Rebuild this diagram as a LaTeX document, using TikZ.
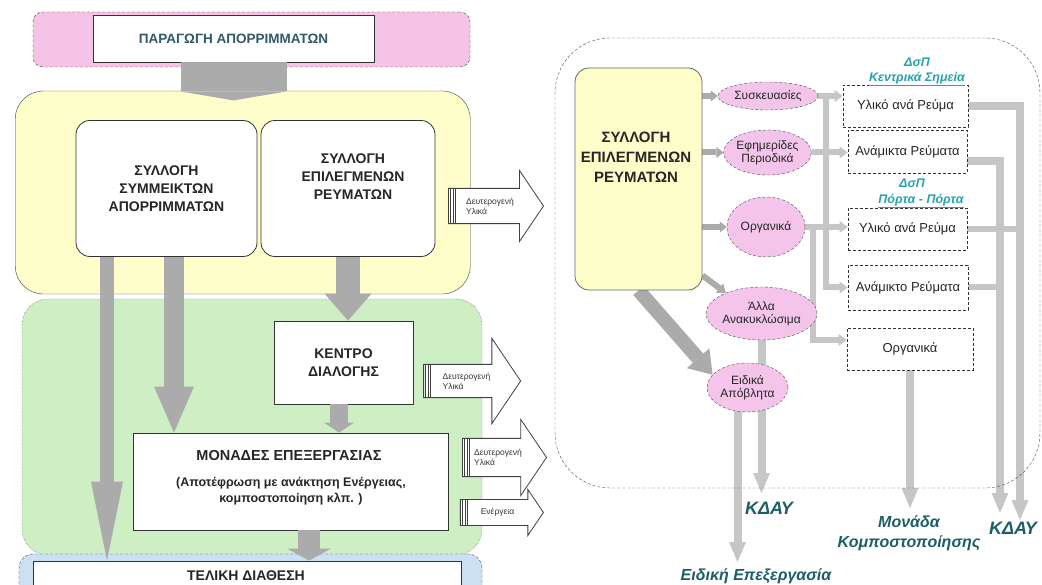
\documentclass[tikz,border=0pt]{standalone}
\usepackage{fontspec}
\setmainfont{Liberation Sans}
\usetikzlibrary{arrows.meta,shapes.geometric,shapes.arrows,backgrounds}

\definecolor{pinkfill}{HTML}{F5C3E6}
\definecolor{yellowfill}{HTML}{FEFECB}
\definecolor{greenfill}{HTML}{CDEFC3}
\definecolor{bluefill}{HTML}{CCE0F4}
\definecolor{bubblepink}{HTML}{F4C4EA}
\definecolor{arrowgray}{HTML}{ABABAB}
\definecolor{flowgray}{HTML}{C6C6C6}
\definecolor{tealdark}{HTML}{1C5E66}
\definecolor{teallight}{HTML}{25A3AD}
\definecolor{prodtext}{HTML}{2F5868}

\tikzset{
  panel/.style={draw=black!75, rounded corners=20pt},
  whitebox/.style={draw=black!80, fill=white, thick, align=center, text=black!85, font=\bfseries\fontsize{14}{18}\selectfont},
  roundbox/.style={whitebox, rounded corners=14pt},
  blockarrow/.style n args={3}{draw=arrowgray, line width=#1, -{Triangle[length=#2, width=#3, line width=0pt]}},
  hollowarrow/.style={single arrow, draw=black!75, fill=white, thick, single arrow tip angle=112, inner xsep=1pt, align=left, font=\fontsize{8.5}{10}\selectfont, text=black!80},
  stripes/.style={path picture={\foreach \d in {2,4.5,7} \draw[black!75, line width=0.7pt] ([xshift=\d pt]path picture bounding box.south west) -- ([xshift=\d pt]path picture bounding box.north west);}},
  bubble/.style={ellipse, draw=black!70, densely dashed, fill=bubblepink, inner sep=0pt, align=center, font=\fontsize{12}{13}\selectfont, text=black!85},
  streambox/.style={draw=black!80, densely dashed, thick, fill=white, inner xsep=2pt, font=\fontsize{13}{15}\selectfont, text=black!85},
  flow/.style={draw=flowgray, line width=6pt, -{Triangle[length=8pt, width=12pt, line width=0pt]}},
  flowline/.style={draw=flowgray, line width=6pt},
  flowdown/.style={draw=flowgray, line width=8pt, -{Triangle[length=20pt, width=17pt, line width=0pt]}},
  outlabel/.style={text=tealdark, font=\bfseries\itshape\fontsize{16}{20}\selectfont, align=center},
  dsplabel/.style={text=teallight, font=\bfseries\itshape\fontsize{12.5}{14}\selectfont, align=center}
}

\begin{document}
\begin{tikzpicture}[x=1pt, y=-1pt]
% left: waste flow from production to final disposal
\useasboundingbox (0,0) rectangle (1042,585);
\clip (0,0) rectangle (1042,585);

\node[panel, densely dashed, fill=pinkfill, minimum width=437pt, minimum height=55pt, rounded corners=10pt] (prodpanel) at (251.5,39.5) {};
\node[whitebox, minimum width=281pt, minimum height=47pt, text=prodtext, font=\bfseries\fontsize{13.5}{15}\selectfont] (prod) at (233.5,38.5) {ΠΑΡΑΓΩΓΗ ΑΠΟΡΡΙΜΜΑΤΩΝ};

\node[panel, fill=yellowfill, minimum width=455pt, minimum height=203pt, rounded corners=28pt] (collect) at (242.75,192.5) {};
\node[roundbox, minimum width=181pt, minimum height=136pt] (mixed) at (166.5,188.5) {ΣΥΛΛΟΓΗ\\ΣΥΜΜΕΙΚΤΩΝ\\ΑΠΟΡΡΙΜΜΑΤΩΝ};
\node[roundbox, minimum width=174pt, minimum height=136pt] (sel) at (348,188.5) {};
\node[align=center, text=black!85, font=\bfseries\fontsize{14}{18}\selectfont] (seltext) at (353,177) {ΣΥΛΛΟΓΗ\\ΕΠΙΛΕΓΜΕΝΩΝ\\ΡΕΥΜΑΤΩΝ};

\node[panel, densely dotted, fill=greenfill, minimum width=460pt, minimum height=256pt, rounded corners=26pt] (sortpanel) at (252,427) {};
\node[whitebox, minimum width=139pt, minimum height=83pt] (kentro) at (343.5,362.5) {ΚΕΝΤΡΟ\\ΔΙΑΛΟΓΗΣ};
\node[whitebox, minimum width=315pt, minimum height=97pt] (monades) at (290.5,481.5) {};
\node[align=center, text=black!85, font=\bfseries\fontsize{14.5}{16}\selectfont] (monadestitle) at (289,456) {ΜΟΝΑΔΕΣ ΕΠΕΞΕΡΓΑΣΙΑΣ};
\node[align=center, text=black!85, font=\bfseries\fontsize{12.5}{16}\selectfont] (monadesnote) at (291,491) {(Αποτέφρωση με ανάκτηση Ενέργειας,\\κομποστοποίηση κλπ. )};

\node[panel, densely dashed, fill=bluefill, minimum width=463pt, minimum height=70pt, rounded corners=14pt] (disppanel) at (250.5,589) {};
\node[whitebox, minimum width=428pt, minimum height=44pt] (final) at (247,583) {};
\node[text=black!85, font=\bfseries\fontsize{14}{16}\selectfont] (finaltext) at (246,576) {ΤΕΛΙΚΗ ΔΙΑΘΕΣΗ};

\node[hollowarrow, stripes, inner ysep=9pt, minimum height=95pt, single arrow head extend=18pt] (secA) at (490,206) {Δευτερογενή\\Υλικά};
\node[hollowarrow, stripes, inner ysep=8pt, minimum height=97pt, single arrow head extend=26pt] (secB) at (466.5,381) {Δευτερογενή\\Υλικά};
\node[hollowarrow, stripes, inner ysep=10.5pt, minimum height=84pt, single arrow head extend=19pt] (secC) at (498,457.5) {Δευτερογενή\\Υλικά};
\node[hollowarrow, stripes, inner ysep=8.5pt, minimum height=83pt, single arrow head extend=10pt] (energy) at (497.5,512.5) {Ενέργεια};

\draw[blockarrow={106pt}{9pt}{106pt}] (prod.south) -- ([yshift=-38pt]prod.south);
\draw[blockarrow={14pt}{79pt}{32pt}] ([xshift=-59.5pt]mixed.south) -- ([xshift=-59.5pt]mixed.south |- final.north);
\draw[blockarrow={20pt}{46pt}{40pt}] ([xshift=7.5pt]mixed.south) -- ([xshift=7.5pt]mixed.south |- monades.north);
\draw[blockarrow={24pt}{27pt}{47pt}] (sel.south) -- (sel.south |- kentro.north);
\draw[blockarrow={18pt}{10pt}{30pt}] ([xshift=-4.5pt]kentro.south) -- ([xshift=-4.5pt]kentro.south |- monades.north);
\draw[blockarrow={22pt}{12pt}{44pt}] ([xshift=18.5pt]monades.south) -- ([xshift=18.5pt]monades.south |- final.north);

% right: selected streams
\node[draw=black!70, densely dashed, rounded corners=55pt, minimum width=485pt, minimum height=450pt] (frame) at (797.5,263) {};
\node[draw=black!60, fill=yellowfill, thick, rounded corners=14pt, minimum width=127pt, minimum height=222pt] (selR) at (638.5,179) {};
\node[align=center, text=black!85, font=\bfseries\fontsize{15}{20}\selectfont] (selRtext) at (636,157) {ΣΥΛΛΟΓΗ\\ΕΠΙΛΕΓΜΕΝΩΝ\\ΡΕΥΜΑΤΩΝ};

\node[bubble, minimum width=100pt, minimum height=28pt] (sysk) at (768,96) {Συσκευασίες};
\node[bubble, minimum width=81pt, minimum height=45pt] (efim) at (767.5,152.5) {Εφημερίδες\\Περιοδικά};
\node[bubble, minimum width=78pt, minimum height=60pt] (org) at (766,227) {Οργανικά};
\node[bubble, minimum width=97pt, minimum height=53pt] (alla) at (761.5,313.5) {Άλλα\\Ανακυκλώσιμα};
\node[bubble, minimum width=81pt, minimum height=49pt] (eidika) at (747.5,387.5) {Ειδικά\\Απόβλητα};

\node[streambox, minimum width=125pt, minimum height=42pt] (yliko1) at (905.5,106) {Υλικό ανά Ρεύμα};
\node[streambox, minimum width=119pt, minimum height=43pt] (anamikta1) at (907.5,151.5) {Ανάμικτα Ρεύματα};
\node[streambox, minimum width=119pt, minimum height=42pt] (yliko2) at (907.5,229) {Υλικό ανά Ρεύμα};
\node[streambox, minimum width=120pt, minimum height=45pt] (anamikto2) at (908,287.5) {Ανάμικτο Ρεύματα};
\node[streambox, minimum width=126pt, minimum height=42pt] (organika) at (910,349) {Οργανικά};

\node[dsplabel] (dspA) at (917,62) {ΔσΠ};
\node[dsplabel] (centralpts) at (917,79) {\underline{Κεντρικά Σημεία}};
\node[dsplabel] (dspB) at (912,183) {ΔσΠ};
\node[dsplabel] (doortodoor) at (921,201) {\underline{Πόρτα - Πόρτα}};

\node[outlabel, font=\bfseries\itshape\fontsize{18}{20}\selectfont] (kdayA) at (769,508) {ΚΔΑΥ};
\node[outlabel] (special) at (756,576) {Ειδική Επεξεργασία};
\node[outlabel] (compost) at (909,533) {Μονάδα\\Κομποστοποίησης};
\node[outlabel, font=\bfseries\itshape\fontsize{18}{20}\selectfont] (kdayB) at (1013,528) {ΚΔΑΥ};

\coordinate (trunk) at (826,96);
\coordinate (kdayAtip) at (764,493);
\coordinate (specialtip) at (737,562);
\coordinate (composttip) at (907,508);
\coordinate (kdayBtip1) at (1020,520);
\coordinate (kdayBtip2) at (1000,513);

\begin{scope}[on background layer]
\foreach \to in {sysk,efim,org}
  \draw[flow, draw=arrowgray, -{Triangle[length=7pt, width=11pt, line width=0pt]}] (selR.east |- \to.west) -- (\to.west);
\draw[blockarrow={14pt}{22pt}{30pt}] (selR.south) -- (eidika.160);
\draw[flow, draw=arrowgray] ([yshift=15pt]selR.south east) -- (alla.150);
\draw[flow] (sysk.east) -- (sysk.east -| yliko1.west);
\draw[flow] (efim.east) -- (efim.east -| anamikta1.west);
\draw[flow] (org.east) -- (org.east -| yliko2.west);
\draw[flow] (trunk) |- (anamikto2.west);
\draw[flow] ([xshift=8pt]org.east) |- ([yshift=9pt]organika.west);
\draw[flowdown] (yliko1.east) -| (kdayBtip1);
\draw[flowline] (yliko2.east) -- (yliko2.east -| kdayBtip1);
\draw[flowdown] ([yshift=-10pt]anamikta1.east) -| (kdayBtip2);
\draw[flowline] (anamikto2.east) -- (anamikto2.east -| kdayBtip2);
\draw[flowdown] (alla.south) -- (alla.south |- kdayAtip);
\draw[flowdown] ([xshift=-10pt]eidika.center) -- ([xshift=-10pt]eidika.center |- specialtip);
\draw[flowdown] (organika.south) -- (organika.south |- composttip);
\end{scope}
\end{tikzpicture}
\end{document}
